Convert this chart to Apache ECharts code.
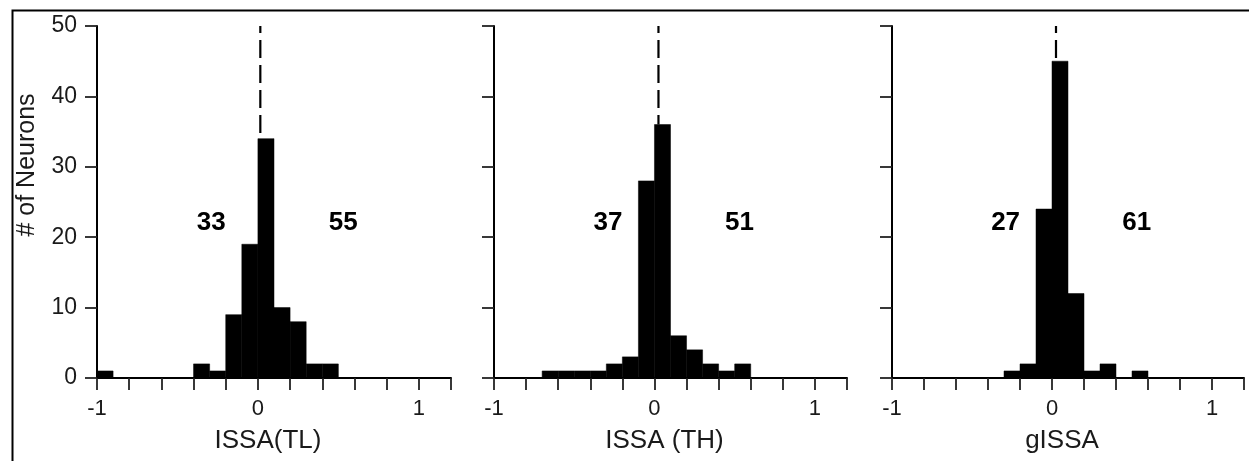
<!DOCTYPE html>
<html>
<head>
<meta charset="utf-8">
<script src="https://cdn.jsdelivr.net/npm/echarts@6/dist/echarts.min.js"></script>
<style>
html,body{margin:0;padding:0;background:#fff;}
#chart{width:1249px;height:461px;}
</style>
</head>
<body>
<div id="chart"></div>
<script>
// ---- data ----
const binStarts = [-1.0,-0.9,-0.8,-0.7,-0.6,-0.5,-0.4,-0.3,-0.2,-0.1,0.0,0.1,0.2,0.3,0.4,0.5];
const binWidth = 0.1;
const countsTL = [1,0,0,0,0,0,2,1,9,19,34,10,8,2,2,0];
const countsTH = [0,0,0,1,1,1,1,2,3,28,36,6,4,2,1,2];
const countsG  = [0,0,0,0,0,0,0,1,2,24,45,12,1,2,0,1];
const panelTitles = ['ISSA(TL)', 'ISSA (TH)', 'gISSA'];
const leftCounts = ['33', '37', '27'];
const rightCounts = ['55', '51', '61'];
const dashX = [0.015, 0.025, 0.025];
const yTicks = [0, 10, 20, 30, 40, 50];
const xTickLabels = ['-1', '0', '1'];
const yAxisTitle = '# of Neurons';

const allCounts = [countsTL, countsTH, countsG];
const FONT = '"Liberation Sans", Arial, Helvetica, sans-serif';
const INK = '#000';

const grids = [
  {left: 97, top: 26, width: 354, height: 352},
  {left: 494, top: 26, width: 353, height: 352},
  {left: 892, top: 26, width: 352, height: 352}
];

const xAxes = [], yAxes = [], series = [];
grids.forEach((g, i) => {
  xAxes.push({
    gridIndex: i, type: 'value', min: -1, max: 1.2, interval: 0.2,
    name: panelTitles[i], nameLocation: 'middle', nameGap: 50,
    nameTextStyle: {fontFamily: FONT, fontSize: 26, color: '#1a1a1a', padding: [0, 12, 0, 0]},
    axisLine: {show: true, onZero: false, lineStyle: {color: '#000', width: 2}},
    axisTick: {show: true, length: 12, lineStyle: {color: '#222', width: 1.8}},
    splitLine: {show: false},
    axisLabel: {
      margin: 20, fontFamily: FONT, fontSize: 22, color: '#1a1a1a',
      formatter: v => {
        const r = Math.round(v);
        if (Math.abs(v - r) < 1e-6) {
          const s = String(r);
          return xTickLabels.indexOf(s) >= 0 ? s : '';
        }
        return '';
      }
    }
  });
  yAxes.push({
    gridIndex: i, type: 'value', min: yTicks[0], max: yTicks[yTicks.length - 1], interval: 10,
    axisLine: {show: true, onZero: false, lineStyle: {color: '#000', width: 2}},
    axisTick: {show: true, length: 12, lineStyle: {color: '#222', width: 1.8}},
    splitLine: {show: false},
    axisLabel: {show: i === 0, margin: 20, fontFamily: FONT, fontSize: 23, color: '#1a1a1a'}
  });
  const counts = allCounts[i];
  series.push({
    type: 'custom', xAxisIndex: i, yAxisIndex: i, z: 3,
    data: binStarts.map((b, k) => [b, counts[k]]),
    renderItem: (params, api) => {
      const x0 = api.value(0), h = api.value(1);
      if (!h) return null;
      const p0 = api.coord([x0, 0]);
      const p1 = api.coord([x0 + binWidth, h]);
      return {
        type: 'rect',
        shape: {x: p0[0], y: p1[1], width: p1[0] - p0[0], height: p0[1] - p1[1]},
        style: {fill: '#000', stroke: '#000', lineWidth: 0.5}
      };
    }
  });
  const peak = Math.max.apply(null, counts);
  series.push({
    type: 'line', xAxisIndex: i, yAxisIndex: i, z: 2,
    symbol: 'none', silent: true,
    data: [[dashX[i], 50], [dashX[i], peak]],
    lineStyle: {color: '#000', width: 2.2, type: [18, 7], dashOffset: 11}
  });
  series.push({
    type: 'scatter', xAxisIndex: i, yAxisIndex: i, z: 4,
    symbolSize: 1, silent: true,
    itemStyle: {opacity: 0},
    data: [[-0.29, 22, leftCounts[i]], [0.53, 22, rightCounts[i]]],
    label: {
      show: true, position: 'inside', opacity: 1,
      formatter: p => p.data[2],
      fontFamily: FONT, fontSize: 26, fontWeight: 'bold', color: INK
    }
  });
});

const chart = echarts.init(document.getElementById('chart'), null, {renderer: 'canvas'});
chart.setOption({
  backgroundColor: '#fff',
  animation: false,
  grid: grids,
  xAxis: xAxes,
  yAxis: yAxes,
  series: series,
  graphic: [
    {type: 'rect', left: 10, top: 8, z: 100, silent: true,
     shape: {x: 0, y: 0, width: 1400, height: 600},
     style: {fill: 'none', stroke: '#000', lineWidth: 2}},
    {type: 'text', x: 27, y: 165, rotation: Math.PI / 2, z: 100,
     style: {text: yAxisTitle, fontFamily: FONT, fontSize: 25, fill: '#1a1a1a',
             align: 'center', verticalAlign: 'middle'}}
  ]
});
</script>
</body>
</html>
